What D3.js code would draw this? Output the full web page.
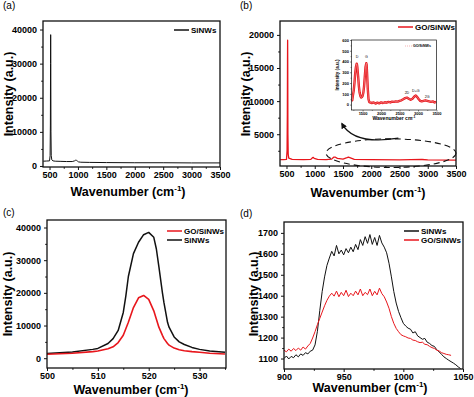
<!DOCTYPE html>
<html>
<head>
<meta charset="utf-8">
<script src="https://cdn.jsdelivr.net/npm/d3@7/dist/d3.min.js"></script>
<style>
  body { margin: 0; background: #fff; }
  svg { display: block; font-family: "Liberation Sans", Arial, sans-serif; }
</style>
</head>
<body>
<svg id="fig" width="474" height="397"></svg>
<script>
// ---------------- data ----------------
// (a) SiNWs full spectrum
const aWave = [390, 450, 500, 510, 515, 518, 520, 522, 525, 530, 540, 560, 600, 700, 800, 900, 940, 960, 975, 990, 1010, 1050, 1200, 1500, 2000, 2500, 3000, 3500];
const aSiNWs = [1400, 1450, 1500, 3000, 12000, 30000, 38500, 30000, 10000, 3000, 1800, 1500, 1400, 1350, 1300, 1300, 1500, 1700, 1650, 1450, 1200, 1100, 1050, 1000, 950, 950, 900, 900];

// (b) GO/SiNWs full spectrum
const bWave = [390, 450, 500, 510, 515, 518, 520, 522, 525, 530, 540, 600, 800, 930, 960, 975, 990, 1050, 1200, 1300, 1340, 1360, 1400, 1500, 1570, 1600, 1620, 1700, 2000, 2500, 2700, 2900, 3000, 3500];
const bGO = [1150, 1150, 1200, 2500, 8000, 16000, 19200, 15000, 5000, 2000, 1400, 1200, 1150, 1200, 1450, 1500, 1350, 1200, 1150, 1250, 1550, 1550, 1350, 1250, 1450, 1550, 1450, 1200, 1150, 1120, 1150, 1180, 1120, 1100];

// (b) inset: GO/SiNWs after baseline removal
const insetWave = [1200, 1220, 1240, 1260, 1280, 1300, 1320, 1340, 1350, 1360, 1380, 1400, 1420, 1440, 1460, 1480, 1500, 1520, 1540, 1560, 1580, 1600, 1610, 1620, 1640, 1660, 1680, 1700, 1750, 1800, 1850, 1900, 1950, 2000, 2050, 2100, 2150, 2200, 2250, 2300, 2350, 2400, 2450, 2500, 2550, 2600, 2650, 2700, 2750, 2800, 2850, 2900, 2940, 2980, 3020, 3060, 3100, 3150, 3200, 3250, 3300, 3350, 3400, 3450, 3500];
const insetGO = [60, 40, 90, 130, 200, 290, 350, 380, 370, 340, 260, 170, 110, 80, 65, 70, 80, 110, 170, 260, 350, 385, 370, 300, 150, 50, 25, 20, 15, 20, 10, 18, 12, 20, 15, 22, 18, 25, 20, 28, 25, 30, 28, 35, 40, 50, 60, 65, 55, 45, 55, 75, 85, 70, 50, 35, 30, 35, 40, 35, 30, 25, 30, 20, 25];
const insetPeaks = ["D", "G", "2D", "D+G", "2G"];
const insetPeakWave = [1350, 1600, 2700, 2940, 3250];
const insetPeakLevel = [430, 430, 100, 120, 60];

// (c) Si optical phonon peak
const cWave = [500, 505, 509, 510, 512, 513, 514, 515, 515.5, 516, 517, 518, 519, 520, 521, 521.5, 522, 522.7, 523, 523.7, 524, 525, 526, 527, 528.5, 530, 532, 535];
const cSiNWs = [1400, 1900, 2700, 3000, 4500, 6000, 8500, 14000, 19000, 25000, 32000, 35500, 37800, 38500, 37000, 33500, 28000, 20000, 17000, 11000, 9500, 6500, 5000, 4200, 3300, 2700, 2200, 1800];
const cGO = [1200, 1500, 2000, 2200, 2900, 3500, 4800, 7000, 9000, 11000, 15500, 18500, 19200, 18000, 14500, 12000, 9500, 7000, 6000, 4500, 4000, 3100, 2600, 2300, 2000, 1800, 1500, 1300];

// (d) second-order Si band
const dWaveBlack = [900, 902, 904, 906, 908, 910, 912, 914, 916, 918, 920, 922, 924, 926, 928, 930, 932, 934, 936, 938, 940, 942, 944, 946, 948, 950, 952, 954, 956, 958, 960, 962, 964, 966, 968, 970, 972, 974, 976, 978, 980, 982, 984, 986, 988, 990, 992, 994, 996, 998, 1000, 1002, 1004, 1006, 1008, 1010, 1012, 1014, 1016, 1018, 1020, 1022, 1024, 1026, 1028, 1030, 1032, 1034, 1036, 1038, 1040, 1042, 1044, 1046, 1048];
const dSiNWs = [1100, 1112, 1098, 1110, 1104, 1118, 1108, 1122, 1115, 1128, 1122, 1135, 1140, 1165, 1230, 1330, 1420, 1490, 1545, 1580, 1612, 1590, 1640, 1600, 1618, 1595, 1625, 1605, 1632, 1610, 1645, 1620, 1668, 1640, 1682, 1650, 1692, 1645, 1678, 1640, 1688, 1652, 1632, 1605, 1555, 1490, 1420, 1365, 1325, 1295, 1268, 1255, 1245, 1240, 1222, 1228, 1208, 1200, 1192, 1196, 1178, 1172, 1162, 1158, 1142, 1132, 1120, 1108, 1100, 1092, 1085, 1078, 1070, 1060, 1052];
const dWaveRed = [900, 902, 904, 906, 908, 910, 912, 914, 916, 918, 920, 922, 924, 926, 928, 930, 932, 934, 936, 938, 940, 942, 944, 946, 948, 950, 952, 954, 956, 958, 960, 962, 964, 966, 968, 970, 972, 974, 976, 978, 980, 982, 984, 986, 988, 990, 992, 994, 996, 998, 1000, 1002, 1004, 1006, 1008, 1010, 1012, 1014, 1016, 1018, 1020, 1022, 1024, 1026, 1028, 1030, 1032, 1034, 1036, 1038, 1040];
const dGO = [1140, 1132, 1145, 1135, 1148, 1138, 1150, 1140, 1155, 1145, 1160, 1172, 1198, 1228, 1262, 1292, 1322, 1352, 1378, 1398, 1412, 1398, 1422, 1395, 1416, 1400, 1426, 1396, 1412, 1400, 1422, 1404, 1432, 1400, 1416, 1405, 1432, 1400, 1421, 1404, 1436, 1410, 1395, 1370, 1340, 1300, 1268, 1244, 1228, 1214, 1208, 1204, 1198, 1196, 1188, 1186, 1180, 1176, 1178, 1168, 1166, 1158, 1152, 1148, 1140, 1136, 1128, 1124, 1120, 1118, 1115];

// tick values
const tickWide = [500, 1000, 1500, 2000, 2500, 3000, 3500];
const minorWide = [750, 1250, 1750, 2250, 2750, 3250];
const ticksA = [0, 10000, 20000, 30000, 40000];
const ticksB = [5000, 10000, 15000, 20000];
const ticksCx = [500, 510, 520, 530];
const ticksCy = [0, 10000, 20000, 30000, 40000];
const ticksDx = [900, 950, 1000, 1050];
const ticksDy = [1100, 1200, 1300, 1400, 1500, 1600, 1700];
const insetTx = [1500, 2000, 2500, 3000, 3500];
const insetTy = [0, 100, 200, 300, 400, 500, 600];

const RED = "#e8161c";
const BLACK = "#111";

const svg = d3.select("#fig");
let clipCount = 0;

// build one framed panel with its axes and return the scales
function makePanel(box, xDom, yDom, xT, xM, yT, yM, opt = {}) {
  const fs = opt.fs || 9;
  const ts = opt.ts || 3;
  const g = svg.append("g");
  const x = d3.scaleLinear().domain(xDom).range([box.l, box.r]);
  const y = d3.scaleLinear().domain(yDom).range([box.b, box.t]);

  const id = "clip" + (++clipCount);
  svg.append("clipPath").attr("id", id).append("rect")
    .attr("x", box.l).attr("y", box.t)
    .attr("width", box.r - box.l).attr("height", box.b - box.t);

  const style = s => {
    s.select(".domain").remove();
    s.attr("font-family", null).attr("font-size", fs).attr("font-weight", "bold");
    s.selectAll("line").attr("stroke", BLACK).attr("stroke-width", opt.sw || 1);
  };
  // minor ticks
  g.append("g").attr("transform", `translate(0,${box.b})`)
    .call(d3.axisBottom(x).tickValues(xM).tickSize(ts * 0.6).tickFormat("")).call(style);
  g.append("g").attr("transform", `translate(${box.l},0)`)
    .call(d3.axisLeft(y).tickValues(yM).tickSize(ts * 0.6).tickFormat("")).call(style);
  // major ticks
  g.append("g").attr("transform", `translate(0,${box.b})`)
    .call(d3.axisBottom(x).tickValues(xT).tickSize(ts).tickPadding(opt.px || 1.5).tickFormat(d3.format("d"))).call(style);
  g.append("g").attr("transform", `translate(${box.l},0)`)
    .call(d3.axisLeft(y).tickValues(yT).tickSize(ts).tickPadding(opt.py || 3).tickFormat(d3.format("d"))).call(style);

  const plot = g.append("g").attr("clip-path", `url(#${id})`);
  g.append("rect")
    .attr("x", box.l).attr("y", box.t)
    .attr("width", box.r - box.l).attr("height", box.b - box.t)
    .attr("fill", "none").attr("stroke", BLACK).attr("stroke-width", opt.frame || 1.3);
  return { g, plot, x, y };
}

function drawLine(p, xs, ys, color, w) {
  const line = d3.line().x(d => p.x(d[0])).y(d => p.y(d[1]));
  p.plot.append("path")
    .datum(xs.map((v, i) => [v, ys[i]]))
    .attr("fill", "none").attr("stroke", color)
    .attr("stroke-width", w).attr("stroke-linejoin", "round")
    .attr("d", line);
}

function xTitle(cx, y) {
  const t = svg.append("text").attr("x", cx).attr("y", y)
    .attr("text-anchor", "middle").attr("font-size", 12.5).attr("font-weight", "bold");
  t.append("tspan").text("Wavenumber (cm");
  t.append("tspan").attr("dy", -5).attr("font-size", 8).text("-1");
  t.append("tspan").attr("dy", 5).text(")");
}

function yTitle(cx, cy) {
  svg.append("text").attr("transform", `translate(${cx},${cy}) rotate(-90)`)
    .attr("text-anchor", "middle").attr("font-size", 12.5).attr("font-weight", "bold")
    .text("Intensity (a.u.)");
}

function legend(x0, y0, items) {
  items.forEach((it, i) => {
    const yy = y0 + i * 9;
    svg.append("line").attr("x1", x0).attr("x2", x0 + 15).attr("y1", yy).attr("y2", yy)
      .attr("stroke", it.color).attr("stroke-width", 1.5);
    svg.append("text").attr("x", x0 + 17).attr("y", yy + 3)
      .attr("font-size", 8).attr("font-weight", "bold").text(it.label);
  });
}

function panelTag(x, y, s) {
  svg.append("text").attr("x", x).attr("y", y).attr("font-size", 10).text(s);
}

// ================= (a) =================
const pa = makePanel({ l: 43, r: 220, t: 21, b: 167 }, [385, 3500], [-300, 42500],
  tickWide, minorWide, ticksA, [5000, 15000, 25000, 35000]);
drawLine(pa, aWave, aSiNWs, BLACK, 1);
legend(174, 30, [{ label: "SiNWs", color: BLACK }]);
xTitle(128, 196);
yTitle(13, 94);
panelTag(3, 9, "(a)");

// ================= (b) =================
const pb = makePanel({ l: 280, r: 456, t: 21, b: 166 }, [385, 3500], [200, 22100],
  tickWide, minorWide, ticksB, [2500, 7500, 12500, 17500]);
drawLine(pb, bWave, bGO, RED, 1.3);
legend(398, 27, [{ label: "GO/SiNWs", color: RED }]);
xTitle(368, 197);
yTitle(250, 94);
panelTag(240, 9, "(b)");

// dashed ellipse around the 1200-3500 region and the arrow to the inset
const ellX = [1200, 3500];
const ellY = [-20, 4300];
svg.append("ellipse")
  .attr("cx", (pb.x(ellX[0]) + pb.x(ellX[1])) / 2)
  .attr("cy", (pb.y(ellY[0]) + pb.y(ellY[1])) / 2)
  .attr("rx", (pb.x(ellX[1]) - pb.x(ellX[0])) / 2)
  .attr("ry", (pb.y(ellY[0]) - pb.y(ellY[1])) / 2)
  .attr("fill", "none").attr("stroke", BLACK).attr("stroke-width", 1.1)
  .attr("stroke-dasharray", "6,4");

svg.append("defs").append("marker")
  .attr("id", "arrow").attr("viewBox", "0 0 10 10").attr("refX", 8).attr("refY", 5)
  .attr("markerWidth", 5).attr("markerHeight", 5).attr("orient", "auto")
  .append("path").attr("d", "M0,0 L10,5 L0,10 z").attr("fill", BLACK);
const arrowFrom = [2480, 4400];
const arrowBend = [1700, 3300];
const arrowTo = [1480, 6600];
svg.append("path")
  .attr("d", `M${pb.x(arrowFrom[0])},${pb.y(arrowFrom[1])} Q${pb.x(arrowBend[0])},${pb.y(arrowBend[1])} ${pb.x(arrowTo[0])},${pb.y(arrowTo[1])}`)
  .attr("fill", "none").attr("stroke", BLACK).attr("stroke-width", 1.2)
  .attr("marker-end", "url(#arrow)");

// inset
const pi = makePanel({ l: 351.5, r: 436.5, t: 40, b: 110 }, [1200, 3500], [-50, 600],
  insetTx, [1250, 1750, 2250, 2750, 3250], insetTy, [50, 150, 250, 350, 450, 550],
  { fs: 4, ts: 1.5, px: 0.8, py: 1, sw: 0.5, frame: 0.7 });
drawLine(pi, insetWave, insetGO, RED, 2.4);
drawLine(pi, insetWave, insetGO, "#f6b9b9", 0.5);
insetPeaks.forEach((s, i) => {
  svg.append("text").attr("x", pi.x(insetPeakWave[i])).attr("y", pi.y(insetPeakLevel[i]))
    .attr("text-anchor", "middle").attr("font-size", 3.6).text(s);
});
svg.append("line").attr("x1", 405).attr("x2", 412).attr("y1", 46).attr("y2", 46)
  .attr("stroke", "#f2a0a0").attr("stroke-width", 0.8).attr("stroke-dasharray", "1,1");
svg.append("text").attr("x", 413).attr("y", 47.3).attr("font-size", 3.6).attr("font-weight", "bold").text("GO/SiNWs");
svg.append("text").attr("x", 394).attr("y", 120).attr("text-anchor", "middle")
  .attr("font-size", 5).attr("font-weight", "bold")
  .call(t => { t.append("tspan").text("Wavenumber cm"); t.append("tspan").attr("dy", -2).attr("font-size", 3.5).text("-1"); });
svg.append("text").attr("transform", "translate(339,75) rotate(-90)")
  .attr("text-anchor", "middle").attr("font-size", 4.6).attr("font-weight", "bold").text("Intensity (a.u.)");

// ================= (c) =================
const pc = makePanel({ l: 47, r: 226, t: 220, b: 368 }, [500, 535.2], [-3000, 42300],
  ticksCx, [505, 515, 525, 535], ticksCy, [5000, 15000, 25000, 35000]);
drawLine(pc, cWave, cSiNWs, BLACK, 1.5);
drawLine(pc, cWave, cGO, RED, 1.6);
legend(167, 231, [{ label: "GO/SiNWs", color: RED }, { label: "SiNWs", color: BLACK }]);
xTitle(131, 394);
yTitle(12, 294);
panelTag(3, 216, "(c)");

// ================= (d) =================
const pd = makePanel({ l: 284, r: 463, t: 222, b: 369 }, [900, 1050], [1050, 1752],
  ticksDx, [925, 975, 1025], ticksDy, [1150, 1250, 1350, 1450, 1550, 1650]);
drawLine(pd, dWaveBlack, dSiNWs, BLACK, 1);
drawLine(pd, dWaveRed, dGO, RED, 1);
legend(404, 231, [{ label: "SiNWs", color: BLACK }, { label: "GO/SiNWs", color: RED }]);
xTitle(370, 392);
yTitle(258, 294);
panelTag(240, 217, "(d)");
</script>
</body>
</html>
